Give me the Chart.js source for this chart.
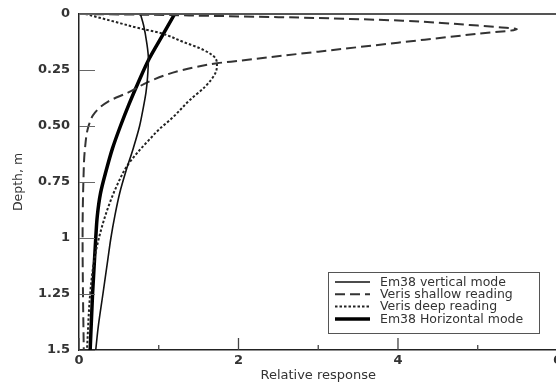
<!DOCTYPE html>
<html>
<head>
<meta charset="utf-8">
<script src="https://cdn.jsdelivr.net/npm/chart.js@4/dist/chart.umd.min.js"></script>
<style>
  html, body { margin: 0; padding: 0; background: #fff; overflow: hidden; }
  #wrap { width: 565px; height: 383px; position: relative; }
</style>
</head>
<body>
<div id="wrap"><canvas id="response-chart"></canvas></div>
<script>
// 各曲線的深度 (m) 與相對響應
const em38VDepth = [0, 0.05, 0.13, 0.2, 0.28, 0.35, 0.43, 0.5, 0.6, 0.7, 0.8, 0.9, 1.0, 1.1, 1.25, 1.4, 1.5];
const em38VResp  = [0.77, 0.81, 0.85, 0.87, 0.86, 0.84, 0.80, 0.76, 0.68, 0.59, 0.51, 0.45, 0.40, 0.36, 0.30, 0.24, 0.21];

const shallowDepth = [0, 0.003, 0.008, 0.014, 0.022, 0.03, 0.04, 0.049, 0.06, 0.068, 0.088, 0.128, 0.168, 0.209, 0.22, 0.25, 0.295, 0.35, 0.39, 0.44, 0.5, 0.6, 0.75, 1.0, 1.25, 1.5];
const shallowResp  = [0, 0.8, 1.6, 2.5, 3.4, 4.06, 4.55, 4.9, 5.3, 5.49, 5.0, 4.0, 3.0, 2.0, 1.73, 1.3, 0.92, 0.62, 0.37, 0.2, 0.12, 0.075, 0.055, 0.045, 0.05, 0.06];

const deepDepth = [0, 0.03, 0.064, 0.085, 0.125, 0.16, 0.197, 0.228, 0.264, 0.325, 0.384, 0.46, 0.52, 0.55, 0.62, 0.68, 0.77, 0.83, 0.9, 1.0, 1.1, 1.25, 1.5];
const deepResp  = [0.08, 0.4, 0.76, 1.02, 1.31, 1.56, 1.71, 1.73, 1.71, 1.58, 1.39, 1.18, 0.99, 0.91, 0.73, 0.60, 0.47, 0.40, 0.33, 0.25, 0.19, 0.14, 0.10];

const em38HDepth = [0, 0.1, 0.2, 0.3, 0.4, 0.5, 0.6, 0.7, 0.8, 0.9, 1.0, 1.25, 1.5];
const em38HResp  = [1.2, 1.04, 0.88, 0.75, 0.63, 0.52, 0.42, 0.34, 0.27, 0.23, 0.21, 0.17, 0.14];

const seriesLabels = ['Em38 vertical mode', 'Veris shallow reading', 'Veris deep reading', 'Em38 Horizontal mode'];

const xTickValues = [0, 2, 4, 6];
const xTickLabels = ['0', '2', '4', '6'];
const xMinorTicks = [1, 3, 5];
const yTickValues = [0, 0.25, 0.5, 0.75, 1, 1.25, 1.5];
const yTickLabels = ['0', '0.25', '0.50', '0.75', '1', '1.25', '1.5'];

document.addEventListener('DOMContentLoaded', () => {
    const toPoints = (depth, resp) => depth.map((d, i) => ({ x: resp[i], y: d }));

    // 刻度朝內、上框線和圖例都自己畫
    const framePlugin = {
        id: 'frame',
        afterDraw(chart) {
            const ctx = chart.ctx;
            const area = chart.chartArea;
            const xs = chart.scales.x;
            const ys = chart.scales.y;
            ctx.save();

            ctx.strokeStyle = '#555';
            ctx.lineWidth = 2;
            ctx.beginPath();
            ctx.moveTo(area.left, area.top);
            ctx.lineTo(area.right, area.top);
            ctx.stroke();

            ctx.strokeStyle = '#666';
            ctx.lineWidth = 1;
            yTickValues.forEach(v => {
                const py = Math.round(ys.getPixelForValue(v)) + 0.5;
                ctx.beginPath();
                ctx.moveTo(area.left, py);
                ctx.lineTo(area.left + 16, py);
                ctx.stroke();
            });

            ctx.strokeStyle = '#444';
            ctx.lineWidth = 1.3;
            xTickValues.forEach(v => {
                const px = xs.getPixelForValue(v);
                ctx.beginPath();
                ctx.moveTo(px, area.bottom);
                ctx.lineTo(px, area.bottom - 12);
                ctx.stroke();
            });
            xMinorTicks.forEach(v => {
                const px = xs.getPixelForValue(v);
                ctx.beginPath();
                ctx.moveTo(px, area.bottom);
                ctx.lineTo(px, area.bottom - 5);
                ctx.stroke();
            });

            // 圖例
            const box = { x: 328.5, y: 272.5, w: 211, h: 61 };
            ctx.fillStyle = '#fff';
            ctx.fillRect(box.x, box.y, box.w, box.h);
            ctx.strokeStyle = '#555';
            ctx.lineWidth = 1;
            ctx.strokeRect(box.x, box.y, box.w, box.h);
            ctx.font = '12.5px "DejaVu Sans"';
            ctx.textBaseline = 'middle';
            chart.data.datasets.forEach((ds, i) => {
                const ry = 282 + i * 12.3;
                ctx.strokeStyle = ds.borderColor;
                ctx.lineWidth = ds.borderWidth;
                ctx.setLineDash(ds.borderDash || []);
                ctx.beginPath();
                ctx.moveTo(335, ry);
                ctx.lineTo(370, ry);
                ctx.stroke();
                ctx.setLineDash([]);
                ctx.fillStyle = '#333';
                ctx.fillText(ds.label, 380, ry + 0.5);
            });
            ctx.restore();
        }
    };

    new Chart(document.getElementById('response-chart'), {
        type: 'scatter',
        data: {
            datasets: [
                { label: seriesLabels[0], data: toPoints(em38VDepth, em38VResp), borderColor: '#111', borderWidth: 1.6 },
                { label: seriesLabels[1], data: toPoints(shallowDepth, shallowResp), borderColor: '#333', borderWidth: 2, borderDash: [10, 5] },
                { label: seriesLabels[2], data: toPoints(deepDepth, deepResp), borderColor: '#222', borderWidth: 2, borderDash: [2.5, 2] },
                { label: seriesLabels[3], data: toPoints(em38HDepth, em38HResp), borderColor: '#000', borderWidth: 3.5 }
            ].map(ds => Object.assign(ds, { showLine: true, pointRadius: 0, fill: false, cubicInterpolationMode: 'monotone' }))
        },
        options: {
            indexAxis: 'y', // 深度為自變數，讓 monotone 曲線沿深度平滑
            responsive: true,
            maintainAspectRatio: false,
            animation: false,
            layout: { padding: { left: 11, top: 14, right: 0, bottom: 0 } },
            plugins: { legend: { display: false }, tooltip: { enabled: false } },
            scales: {
                x: {
                    type: 'linear',
                    min: 0,
                    max: 6,
                    afterBuildTicks: s => { s.ticks = xTickValues.map(v => ({ value: v })); },
                    afterFit: s => { s.height = 33; },
                    grid: { display: false, drawTicks: false },
                    border: { display: true, color: '#222', width: 1.5 },
                    ticks: {
                        padding: 3,
                        color: '#333',
                        font: { family: 'DejaVu Sans', size: 13, weight: 'bold' },
                        callback: (v, i) => xTickLabels[i]
                    },
                    title: {
                        display: true,
                        text: 'Relative response',
                        color: '#333',
                        padding: 0,
                        font: { family: 'DejaVu Sans', size: 13 }
                    }
                },
                y: {
                    type: 'linear',
                    reverse: true,
                    min: 0,
                    max: 1.5,
                    afterBuildTicks: s => { s.ticks = yTickValues.map(v => ({ value: v })); },
                    afterFit: s => { s.width = 68; s.paddingTop = 0; s.paddingBottom = 0; },
                    grid: { display: false, drawTicks: false },
                    border: { display: true, color: '#222', width: 1.5 },
                    ticks: {
                        padding: 9,
                        color: '#333',
                        font: { family: 'DejaVu Sans', size: 13, weight: 'bold' },
                        callback: (v, i) => yTickLabels[i]
                    },
                    title: {
                        display: true,
                        text: 'Depth, m',
                        color: '#333',
                        padding: 0,
                        font: { family: 'DejaVu Sans', size: 12.5 }
                    }
                }
            }
        },
        plugins: [framePlugin]
    });
});
</script>
</body>
</html>
